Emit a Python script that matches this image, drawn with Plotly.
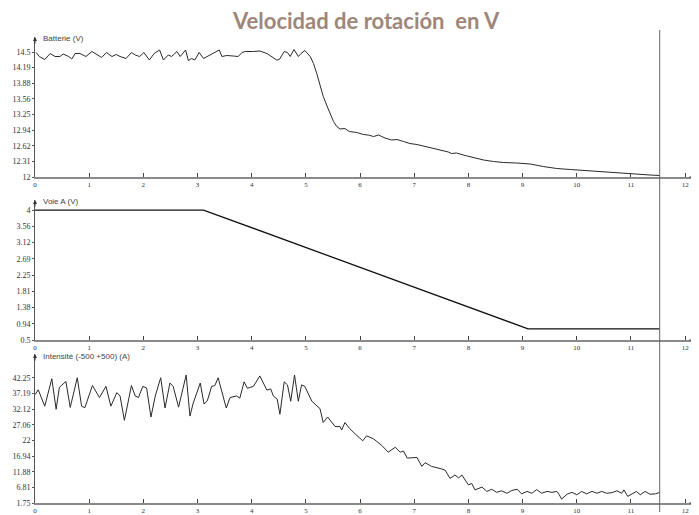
import plotly.graph_objects as go

# ---------------- data ----------------
batt_t = [0.02, 0.08, 0.18, 0.28, 0.37, 0.46, 0.52, 0.62, 0.68, 0.74, 0.83, 0.94, 1.05, 1.17, 1.23, 1.32,
          1.42, 1.50, 1.57, 1.68, 1.78, 1.85, 1.93, 2.01, 2.11, 2.20, 2.30, 2.37, 2.46, 2.52, 2.62, 2.68,
          2.78, 2.83, 2.89, 2.95, 3.03, 3.11, 3.22, 3.29, 3.40, 3.45, 3.54, 3.66, 3.75, 3.82, 3.88, 4.03,
          4.15, 4.28, 4.37, 4.46, 4.51, 4.60, 4.66, 4.71, 4.78, 4.86, 4.91, 4.98, 5.08, 5.14, 5.20, 5.26,
          5.32, 5.42, 5.51, 5.57, 5.63, 5.72, 5.80, 5.94, 6.06, 6.15, 6.25, 6.34, 6.46, 6.58, 6.68, 6.80,
          6.92, 7.05, 7.17, 7.32, 7.48, 7.63, 7.69, 7.78, 7.94, 8.09, 8.28, 8.46, 8.65, 8.89, 9.14, 9.38,
          9.63, 9.88, 10.12, 10.37, 10.61, 10.86, 11.11, 11.35, 11.53]
batt_v = [14.49, 14.41, 14.35, 14.47, 14.41, 14.41, 14.46, 14.41, 14.36, 14.47, 14.47, 14.41, 14.51, 14.43,
          14.39, 14.49, 14.41, 14.45, 14.41, 14.37, 14.49, 14.44, 14.41, 14.49, 14.34, 14.47, 14.54, 14.34,
          14.44, 14.41, 14.51, 14.41, 14.54, 14.33, 14.37, 14.34, 14.49, 14.37, 14.44, 14.47, 14.54, 14.41,
          14.43, 14.42, 14.41, 14.49, 14.51, 14.51, 14.52, 14.47, 14.41, 14.34, 14.35, 14.51, 14.49, 14.41,
          14.55, 14.41, 14.47, 14.53, 14.41, 14.27, 14.07, 13.81, 13.61, 13.34, 13.11, 13.01, 12.96, 12.97,
          12.91, 12.89, 12.85, 12.84, 12.81, 12.84, 12.78, 12.74, 12.75, 12.71, 12.67, 12.65, 12.62, 12.57,
          12.54, 12.50, 12.47, 12.48, 12.43, 12.39, 12.34, 12.31, 12.29, 12.28, 12.26, 12.21, 12.17, 12.15,
          12.13, 12.11, 12.09, 12.07, 12.06, 12.04, 12.03]

voie_t = [0.0, 3.11, 9.10, 11.53]
voie_v = [4.0, 4.0, 0.8, 0.8]

int_t = [0.00, 0.06, 0.18, 0.31, 0.39, 0.45, 0.57, 0.65, 0.78, 0.86, 0.92, 1.06, 1.19, 1.31, 1.40, 1.51,
         1.57, 1.65, 1.78, 1.85, 1.91, 1.99, 2.06, 2.14, 2.22, 2.32, 2.40, 2.49, 2.55, 2.65, 2.79, 2.86,
         2.92, 3.05, 3.12, 3.18, 3.26, 3.32, 3.38, 3.53, 3.60, 3.72, 3.78, 3.86, 3.92, 4.03, 4.15, 4.22,
         4.28, 4.35, 4.40, 4.47, 4.52, 4.60, 4.66, 4.72, 4.79, 4.86, 4.92, 4.98, 5.11, 5.26, 5.32, 5.40,
         5.54, 5.63, 5.66, 5.72, 5.80, 5.91, 6.05, 6.12, 6.25, 6.40, 6.52, 6.65, 6.74, 6.80, 6.87, 7.05,
         7.14, 7.20, 7.32, 7.48, 7.57, 7.66, 7.75, 7.82, 7.88, 8.00, 8.06, 8.12, 8.25, 8.34, 8.43, 8.52,
         8.61, 8.71, 8.80, 8.90, 8.98, 9.08, 9.17, 9.26, 9.35, 9.45, 9.54, 9.63, 9.67, 9.72, 9.82, 9.91,
         10.00, 10.09, 10.18, 10.28, 10.37, 10.46, 10.55, 10.65, 10.74, 10.83, 10.87, 10.94, 11.02, 11.10,
         11.17, 11.26, 11.35, 11.45, 11.53]
int_v = [36.8, 38.4, 33.1, 42.0, 32.1, 39.2, 41.1, 32.7, 42.3, 33.1, 32.6, 39.8, 35.9, 39.5, 33.1, 37.5,
         36.4, 28.5, 39.8, 36.4, 35.9, 39.5, 39.0, 29.6, 36.4, 42.3, 32.5, 40.6, 39.5, 32.8, 43.2, 29.9,
         34.1, 40.6, 33.8, 34.8, 39.5, 39.8, 42.3, 32.5, 35.9, 36.4, 35.7, 41.0, 38.9, 39.5, 42.9, 40.6,
         38.3, 38.7, 36.4, 35.4, 30.5, 41.0, 40.0, 34.7, 43.2, 34.7, 40.0, 39.5, 34.7, 32.3, 27.8, 29.6,
         26.5, 26.5, 25.4, 27.8, 26.0, 24.1, 21.9, 23.5, 22.5, 20.4, 18.2, 19.8, 18.2, 18.6, 16.3, 16.5,
         13.6, 14.8, 13.6, 12.9, 12.4, 9.7, 10.8, 9.9, 10.8, 7.6, 8.1, 6.0, 6.9, 5.5, 6.2, 5.2,
         5.7, 4.9, 5.8, 6.2, 4.7, 5.5, 4.9, 6.1, 4.9, 5.5, 5.2, 5.5, 4.6, 3.0, 4.6, 5.2,
         4.4, 5.5, 4.7, 5.5, 4.9, 5.5, 4.9, 5.1, 5.7, 4.9, 6.0, 3.9, 4.7, 5.5,
         4.4, 5.5, 4.6, 4.7, 5.2]

x_ticks = list(range(0, 13))
batt_ticks = ["12", "12.31", "12.62", "12.94", "13.25", "13.56", "13.88", "14.19", "14.5"]
voie_ticks = ["0.5", "0.94", "1.38", "1.81", "2.25", "2.69", "3.12", "3.56", "4"]
int_ticks = ["1.75", "6.81", "11.88", "16.94", "22", "27.06", "32.12", "37.19", "42.25"]

titles = ["Batterie (V)", "Voie A (V)", "Intensité (-500 +500) (A)"]
cursor_t = 11.53
main_title = "Velocidad de rotación\u00a0 en V"

# ---------------- figure ----------------
# the page body has an 8px margin, so the figure is drawn 8px smaller and offset
OFF = 8
W, H = 699 - OFF, 515 - OFF
fig = go.Figure()


def py(p):  # reference pixel row -> paper fraction
    return 1 - (p - OFF) / H


def px(p):  # reference pixel column -> paper fraction
    return (p - OFF) / W


panels = [
    (batt_t, batt_v, batt_ticks, [12, 14.8], (37, 177), 1.0, "#2a2a2a"),
    (voie_t, voie_v, voie_ticks, [0.5, 4.27], (200, 340), 1.3, "#111111"),
    (int_t, int_v, int_ticks, [1.75, 50.0], (354, 503), 1.0, "#2a2a2a"),
]

ytick_font = dict(family="Liberation Serif, serif", size=8, color="#333")
xtick_font = dict(family="Liberation Serif, serif", size=7, color="#333")
x_dom = [px(35), px(696)]

for i, (t, v, tt, yr, (ytop, ybot), lw, col) in enumerate(panels, start=1):
    xa = "x" if i == 1 else f"x{i}"
    ya = "y" if i == 1 else f"y{i}"
    fig.add_trace(go.Scatter(x=t, y=v, mode="lines", xaxis=xa, yaxis=ya,
                             line=dict(color=col, width=lw), showlegend=False,
                             hoverinfo="skip"))
    lo, hi = float(tt[0]), float(tt[-1])
    step = (hi - lo) / (len(tt) - 1)
    tvals = [lo + k * step for k in range(len(tt))]
    dom = [py(ybot), py(ytop)]
    fig.update_layout(**{
        ("xaxis" if i == 1 else f"xaxis{i}"): dict(
            domain=x_dom, range=[0, 12.2], anchor=ya, showgrid=False, zeroline=False,
            showline=True, linecolor="#8a8a8a", linewidth=1.5,
            tickmode="array", tickvals=x_ticks, ticktext=[str(k) for k in x_ticks],
            ticks="inside", ticklen=4, tickcolor="#444", tickwidth=1,
            tickfont=xtick_font, automargin=False, fixedrange=True),
        ("yaxis" if i == 1 else f"yaxis{i}"): dict(
            domain=dom, range=yr, anchor=xa, showgrid=False, zeroline=False,
            showline=True, linecolor="#555", linewidth=1,
            tickmode="array", tickvals=tvals, ticktext=tt,
            ticks="outside", ticklen=2, tickcolor="#555",
            tickfont=ytick_font, automargin=False, fixedrange=True),
    })
    # y-axis arrow
    fig.add_annotation(x=0, y=1, xref=xa, yref=f"{ya} domain", text="", showarrow=True,
                       ax=0, ay=8, arrowhead=2, arrowsize=0.8, arrowwidth=1, arrowcolor="#333")
    # x-axis arrow
    fig.add_annotation(x=12.2, y=0, xref=xa, yref=f"{ya} domain", text="", showarrow=True,
                       ax=-8, ay=0, arrowhead=2, arrowsize=0.8, arrowwidth=1, arrowcolor="#333")
    # axis title
    fig.add_annotation(x=0, y=1, xref=xa, yref=f"{ya} domain", text=titles[i - 1],
                       showarrow=False, xanchor="left", yanchor="middle", xshift=6, yshift=-2,
                       font=dict(family="Liberation Sans, Arial, sans-serif", size=8, color="#444"))

# cursor line through all panels
fig.add_shape(type="line", xref="x", yref="paper", x0=cursor_t, x1=cursor_t,
              y0=py(512), y1=py(30), line=dict(color="#666", width=1))

fig.add_annotation(x=px(366), y=py(20), xref="paper", yref="paper", text=f"<b>{main_title}</b>",
                   showarrow=False, xanchor="center", yanchor="middle",
                   font=dict(family="Lato, Open Sans, sans-serif", size=22, color="#9e877a"))

fig.update_layout(width=W, height=H, margin=dict(l=0, r=0, t=0, b=0),
                  paper_bgcolor="white", plot_bgcolor="white", showlegend=False)

fig.write_html("out.html")
